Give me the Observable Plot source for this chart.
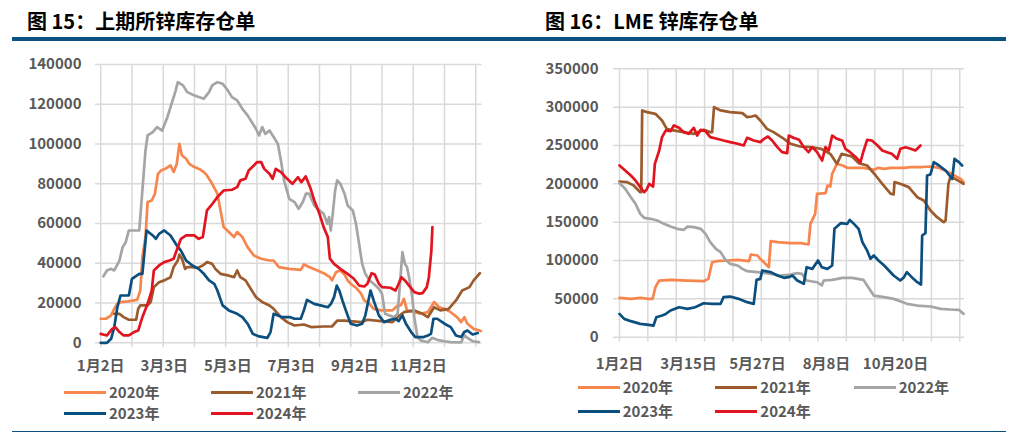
<!DOCTYPE html>
<html><head><meta charset="utf-8">
<script src="https://cdn.jsdelivr.net/npm/d3@7"></script>
<script src="https://cdn.jsdelivr.net/npm/@observablehq/plot@0.6"></script>
<style>
body{margin:0;width:1012px;height:433px;position:relative;background:#fff;overflow:hidden;font-family:"Noto Sans CJK SC","Noto Sans",sans-serif;}
.title{position:absolute;top:8px;font-size:20px;font-weight:700;color:#000;white-space:nowrap;line-height:26px}
.rule{position:absolute;height:3.5px;background:#0b5283;top:37px}
.panel{position:absolute;top:0}
.lg{position:absolute;font-size:15px;font-weight:700;color:#595959;line-height:20px;white-space:nowrap}
.sw{position:absolute;height:3px}
</style></head><body>
<div class="title" style="left:27px">图 15：上期所锌库存仓单</div>
<div class="title" style="left:545px">图 16：LME 锌库存仓单</div>
<div class="rule" style="left:12px;width:494px"></div>
<div class="rule" style="left:506px;width:500px"></div>
<div style="position:absolute;left:12px;width:994px;top:431px;height:1px;background:#0b5283"></div>
<div id="left" class="panel" style="left:0"></div>
<div id="right" class="panel" style="left:506px"></div>
<script>
const years = ["2020年","2021年","2022年","2023年","2024年"];
const colors = ["#f7864e","#9c5b2d","#a5a5a5","#0b4f7f","#e2141f"];

const shfeLabels = ["1月2日","3月3日","5月3日","7月3日","9月2日","11月2日"];
const shfeLabelDays = [0,61,122,183,244,305];
const lmeLabels = ["1月2日","3月15日","5月27日","8月8日","10月20日"];
const lmeLabelDays = [0,73,146,219,292];

// SHFE zinc warrants: [day offset from 1月2日, tons]
const shfe2020 = [[0,12100],[5,12100],[10,13800],[13,17100],[16,19600],[19,20500],[26,20800],[35,21600],[38,26300],[40,43100],[43,53200],[45,70800],[49,71600],[52,75000],[55,85000],[58,86700],[62,87500],[67,89200],[70,85900],[73,90000],[75.5,100100],[78,94200],[82,92600],[85,90000],[90,88400],[96,87000],[99,85900],[102,84200],[107,80000],[112,75000],[115,66600],[118,58200],[123,55700],[128,53200],[131,55700],[136,53200],[141,48100],[147,43900],[154,42300],[162,41400],[166,41400],[171,38100],[181,37200],[192,36700],[195,39400],[200,38100],[208,36400],[214,35000],[220,33000],[222,31400],[226,35600],[230,36400],[234,34400],[237,31400],[240,29700],[245,27700],[250,24700],[253,21300],[258,19600],[262,17100],[269,16300],[280,16300],[285,18800],[288,18800],[291,22100],[294,16300],[301,15400],[307,14600],[314,15400],[320,20500],[325,17900],[330,17100],[336,15400],[342,12900],[346,10400],[349,12900],[352,9600],[358,7000],[365,5900]];
const shfe2021 = [[13,14600],[18,14600],[22,12900],[27,11600],[34,11600],[36,17100],[38,18800],[45,18800],[48,20500],[51,28000],[56,30500],[61,31400],[67,33000],[70,38100],[74,41400],[75.5,44400],[78,42300],[81,37200],[83,38100],[88,38100],[93,37700],[98,38900],[102,40600],[107,39700],[110,37200],[115,34700],[122,33900],[128,33000],[131,36400],[134,33000],[139,31400],[144,27200],[149,23000],[155,20500],[162,18800],[166,17100],[173,12900],[179,10400],[186,8700],[195,9200],[202,7900],[214,8200],[222,8200],[227,11200],[234,11200],[250,10400],[256,11600],[269,10900],[280,10400],[285,12900],[291,15400],[301,16300],[309,14600],[314,12900],[320,17900],[326,16300],[334,17100],[341,21300],[347,26300],[354,28000],[358,31400],[364,35000]];
const shfe2022 = [[2.6,33400],[6,36400],[10,37200],[13,36400],[18,41400],[21,48100],[24,50600],[27,56500],[37,56500],[40,76600],[43,96800],[45,104300],[50,106000],[54,108500],[59,106800],[64,113500],[69,121900],[72,127000],[74,131100],[79,129500],[83,126100],[90,124400],[99,122800],[104,126100],[107,129500],[112,131100],[117,130300],[122,127000],[126,123600],[131,121900],[136,117700],[141,114400],[146,110200],[149,107700],[152,104300],[155,108500],[158,105100],[162,106800],[166,103500],[170,100100],[173,91700],[176,81700],[181,72400],[186,70800],[190,67400],[194,70800],[197,75000],[200,75000],[205,69100],[210,66600],[214,64900],[217.6,59900],[219.2,63200],[220.8,56500],[222.4,63200],[225,76600],[227,81700],[230,80000],[234,75000],[237,69100],[242,66600],[245,59900],[248,49800],[251,39700],[254,34700],[258,31400],[262,29700],[267,27200],[270,24700],[273,14600],[277,13800],[282,12900],[285,14600],[288,34700],[289.6,45600],[292,39700],[294,38100],[296,33000],[299,23000],[301,12900],[304,2900],[307,1200],[314,300],[318,2500],[323,1500],[330,800],[336,300],[346,200],[349,3700],[352,2500],[357,800],[363,300]];
const shfe2023 = [[0,0],[6,0],[10,2000],[13,7900],[16,17900],[19,23800],[27,23800],[30,32200],[37,34700],[40,34700],[44,56500],[50,54000],[53,52300],[56,54800],[61,56500],[67,54000],[72,49800],[77,46400],[82,41400],[88,38900],[94,37200],[99,34700],[104,31400],[109,29700],[112,26300],[117,18800],[123,16300],[131,14600],[136,12900],[141,9600],[146,4500],[152,3200],[160,2500],[163,5400],[166,14600],[170,13800],[174,12900],[182,12900],[186,12100],[192,12100],[195,16300],[198,21600],[205,19600],[211,18800],[218,17900],[221,19600],[224,23000],[226.6,28800],[229,26300],[232,21300],[237,13800],[240,9600],[246,8700],[251,9600],[254,13800],[259,26300],[262,21300],[267,13800],[272,10400],[278,11600],[283,12100],[286,10900],[289.6,13800],[293,9600],[298,5400],[302,2900],[310,2900],[314,3700],[317,4500],[319.4,12100],[323,12100],[330,9600],[336,7900],[341,3700],[346,2900],[349,5400],[352,6200],[357,4200],[362,4900]];
const shfe2024 = [[0,4500],[6,3700],[11,7000],[14,7900],[18,5400],[22,3700],[27,3700],[32,5400],[36,6200],[40,12900],[45,19600],[49,26300],[51,36400],[56,38900],[61,40600],[66,41400],[70,42300],[74,48100],[77,52300],[82,54000],[90,54000],[94,52300],[98,53200],[102,66600],[106,69100],[112,73300],[118,76600],[126,77000],[131,78300],[134,81700],[139,82500],[142,86700],[147,89200],[150,90900],[154,90900],[157,87500],[162,85000],[165,82500],[168,87500],[173,85900],[179,82500],[184,80000],[189.4,83300],[192.6,80800],[196.8,83700],[201,78300],[205,71600],[210,64900],[214,58200],[218,53200],[220,42300],[224,39700],[230,37200],[237,34700],[243,32200],[248,28800],[253,28300],[256,29700],[260,35000],[263,34400],[267,29700],[270,28000],[278,27700],[283,26300],[286,29700],[288.6,33000],[292,31400],[296,28800],[301,25500],[306,24700],[309,25000],[313,28000],[315,33000],[317.4,46400],[318.4,58200]];

// LME zinc stocks: [day offset from 1月2日, tons]
const lme2020 = [[0,51300],[12,50000],[22,51300],[31,50000],[35,50000],[38,65200],[42,73900],[54,74800],[72,73900],[89,73000],[94,76100],[98,97800],[103,99100],[114,100000],[125,100900],[137,99100],[139,107800],[146,106500],[149,102200],[158,91300],[160,125200],[167,123900],[181,122600],[192,122600],[200,120900],[202,147800],[207,160900],[209,187000],[218,187800],[220,197800],[223,196500],[225,213000],[230,226100],[236,223900],[241,220900],[258,220900],[269,218300],[274,220900],[280,219600],[287,220900],[301,220900],[308,221700],[318,221700],[329,222600],[338,220900],[350,213900],[361,206500],[364,202200]];
const lme2021 = [[0,203000],[8,202200],[15,197800],[22,189100],[23,189100],[24,295700],[29,293500],[38,291300],[45,282600],[50,271700],[57,269600],[68,267400],[79,265200],[89,270400],[96,267400],[98,267400],[100,300000],[107,295700],[117,293500],[130,292200],[135,287000],[140,287800],[144,289100],[149,282600],[156,271700],[163,267400],[174,258700],[181,252200],[191,248700],[202,247800],[213,245700],[223,239100],[230,226100],[235,239100],[246,235700],[253,227000],[262,223900],[271,210900],[278,200000],[287,187000],[290,186100],[291,202200],[297,200000],[306,195700],[315,182600],[322,178300],[329,165200],[336,156500],[343,150000],[345,152200],[348,200000],[350,208700],[355,206500],[361,202200],[364,200000]];
const lme2022 = [[0,200900],[6,193500],[12,182600],[17,173900],[22,160900],[26,155700],[33,154400],[40,152200],[47,147800],[54,144300],[61,141300],[68,140000],[72,144300],[79,143500],[86,141300],[91,134800],[96,123900],[102,115200],[107,110900],[112,100900],[117,95700],[125,93500],[130,89100],[135,86100],[146,84800],[160,82600],[170,80400],[181,81700],[188,83500],[193,82600],[198,73900],[209,71700],[214,67400],[216,73900],[225,74800],[236,77400],[246,77400],[258,74800],[262,67400],[269,54300],[280,52200],[290,50000],[297,47000],[304,43500],[315,41300],[329,40000],[340,37000],[350,36100],[359,35700],[364,30400]];
const lme2023 = [[0,30400],[5,23900],[12,20900],[22,17400],[31,16100],[36,15200],[39,26100],[45,28300],[49,30400],[54,34800],[63,39100],[72,37000],[80,39100],[89,44300],[98,43500],[107,43500],[110,52200],[117,53000],[126,50000],[135,45700],[142,43500],[145,74800],[149,76100],[151,87000],[160,84800],[167,80400],[174,77400],[179,78300],[183,80400],[188,73900],[195,69600],[198,91300],[204,89100],[210,100000],[214,91300],[220,89100],[225,93500],[227.4,141300],[234,148700],[241,147800],[243.6,153000],[248,147800],[253,141300],[257,123900],[262,113000],[265.5,102200],[269,106500],[274,100000],[280,93500],[285,87000],[290,80400],[297,73900],[301,78300],[304,84800],[311,76100],[315,71700],[319,68700],[320.2,132600],[323.7,135700],[325.4,210900],[329,212200],[332.5,228300],[338,223900],[345,217400],[352,206500],[354.4,232600],[359,228300],[362.5,223900]];
const lme2024 = [[0,223900],[6,217400],[12,210900],[17,204400],[22,195700],[26,189100],[28.6,192200],[31.4,200000],[35.6,196500],[37.4,226100],[42,243500],[45,260900],[49,269600],[54,268700],[57.5,276100],[63,273000],[68,267400],[73,265200],[78.6,273000],[82.2,263000],[85.7,270400],[91,268700],[96,260900],[103,258700],[110,256500],[117,254400],[125,252200],[131.5,250000],[135,260000],[142,256500],[149,254400],[153,258700],[157,261700],[161.5,256500],[167,247800],[172,241300],[177.4,240000],[179.1,263000],[184,260000],[190,257400],[195,247800],[200,241300],[204,247800],[209,241300],[214.4,230400],[217.9,247800],[221.4,243500],[225,263000],[230,258700],[235.5,256500],[239,245700],[244,241300],[250,234800],[254.9,228300],[258.4,243500],[262,257400],[267,256500],[273,250000],[278,243500],[283,241300],[288,239100],[293.7,232600],[297.2,245700],[302.5,247800],[308,245700],[313,243500],[316.6,247800],[318.4,250000]];

const shfeSeries = [shfe2020, shfe2021, shfe2022, shfe2023, shfe2024];
const lmeSeries = [lme2020, lme2021, lme2022, lme2023, lme2024];

function panel(o) {
  const yTicks = d3.range(0, o.yMax + 1, o.yStep);
  const grid = d3.range(0, 361, 30);
  return Plot.plot({
    width: 506, height: 433,
    marginLeft: o.ml, marginRight: o.mr, marginTop: o.mt, marginBottom: o.mb,
    style: {fontFamily: '"Noto Sans CJK SC","Noto Sans",sans-serif', fontSize: "15px", fontWeight: 700, color: "#595959", background: "transparent", overflow: "visible"},
    x: {domain: o.xDomain},
    y: {domain: [0, o.yMax]},
    marks: [
      Plot.ruleY(yTicks, {stroke: "#d9d9d9", strokeWidth: 1.5}),
      Plot.ruleX(grid, {y1: -o.yMax * o.tickExt, y2: o.yMax, stroke: "#d9d9d9", strokeWidth: 1.5}),
      Plot.axisY(yTicks, {tickSize: 0, tickPadding: o.padY, tickFormat: d => String(d), label: null, fontSize: 15}),
      Plot.axisX(o.labelDays, {tickSize: 0, tickPadding: o.padX, tickFormat: (d, i) => o.labels[i], label: null, fontSize: 15}),
      ...o.series.map((s, i) => Plot.line(s, {x: "0", y: "1", stroke: colors[i], strokeWidth: 2.7, strokeLinejoin: "round", strokeLinecap: "round"}))
    ]
  });
}

document.getElementById("left").append(panel({
  series: shfeSeries, yMax: 140000, yStep: 20000, xDomain: [-5, 366],
  ml: 95, mr: 24.5, mt: 64, mb: 90.7, padY: 14, padX: 18, tickExt: 0.018,
  labelDays: shfeLabelDays, labels: shfeLabels
}));
document.getElementById("right").append(panel({
  series: lmeSeries, yMax: 350000, yStep: 50000, xDomain: [-6.35, 365],
  ml: 107, mr: 48, mt: 68.3, mb: 96.3, padY: 15, padX: 21, tickExt: 0.018,
  labelDays: lmeLabelDays, labels: lmeLabels
}));

// legends
function legend(x0, rows, cols) {
  years.forEach((y, i) => {
    const r = Math.floor(i / 3), c = i % 3;
    const sw = document.createElement("div");
    sw.className = "sw";
    sw.style.left = cols[c] + "px";
    sw.style.width = "42px";
    sw.style.top = (rows[r] - 1.5) + "px";
    sw.style.background = colors[i];
    document.body.append(sw);
    const t = document.createElement("div");
    t.className = "lg";
    t.textContent = y;
    t.style.left = (cols[c] + 45) + "px";
    t.style.top = (rows[r] - 10.5) + "px";
    document.body.append(t);
  });
}
legend(0, [392.7, 413.3], [64, 211, 358]);
legend(0, [387.3, 411], [577.7, 715.3, 853.7]);
</script>
</body></html>
